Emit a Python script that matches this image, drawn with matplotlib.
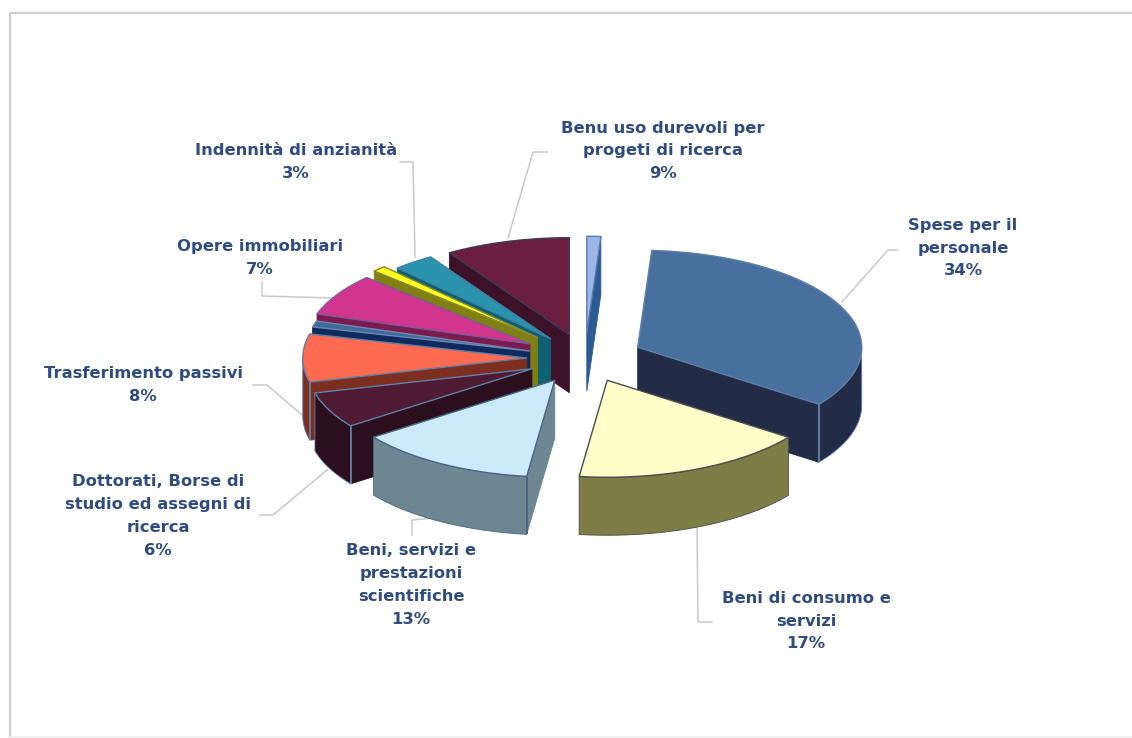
import numpy as np
import matplotlib
matplotlib.use("Agg")
import matplotlib.pyplot as plt
from matplotlib.patches import Polygon

# Budget shares, clockwise from twelve o'clock
categories = [
    "", "Spese per il\npersonale", "Beni di consumo e\nservizi",
    "Beni, servizi e\nprestazioni\nscientifiche",
    "Dottorati, Borse di\nstudio ed assegni di\nricerca",
    "Trasferimento passivi", "", "Opere immobiliari", "",
    "Indennità di anzianità", "Benu uso durevoli per\nprogeti di ricerca",
]
shares = [1, 34, 17, 13, 6, 8, 1, 7, 1, 3, 9]

top_colors = ["#9db6ea", "#48709f", "#ffffc9", "#cdeafb", "#4e1a34", "#ff6b50",
              "#3f6a9e", "#d2358e", "#ffff22", "#2a93ae", "#6a1f40"]
side_colors = ["#2c5a92", "#232c46", "#7d7d46", "#6c8792", "#2b0f1d", "#7c2f20",
               "#0f2a5e", "#7a1c50", "#7f7f14", "#0f6071", "#3c1229"]
edge_colors = ["#5a7cb0", "#5f7fa6", "#4a4a50", "#4a6484", "#5f7fa6", "#5f7fa6",
               "#6f88b0", "#7a5a9a", "#8a8a30", "#3f7fa0", "#3c3a55"]
explode = [0.255, 0.26, 0.25, 0.265, 0.262, 0.26, 0.258, 0.285, 0.30, 0.25, 0.25]

# Pie geometry on the page, in canvas pixels
CX, CY = 585.0, 358.0
RX, RY = 224.0, 97.0
DEPTH = 58.0
TEXT_COLOR = "#2f4b80"
LEADER_COLOR = "#c9c9c9"

# Label anchors and their leader lines
label_pos = {1: (963, 248), 2: (806, 621), 3: (411, 585), 4: (158, 516),
             5: (143, 385), 7: (260, 258), 9: (296, 162), 10: (663, 151)}
leaders = {1: [(842, 302), (888, 250), (897, 250)],
           2: [(697, 524), (698, 622), (712, 622)],
           3: [(433, 518), (412, 520), (412, 535)],
           4: [(327, 470), (273, 515), (260, 515)],
           5: [(302, 415), (267, 385), (253, 385)],
           7: [(333, 298), (262, 296), (262, 282)],
           9: [(415, 257), (413, 162), (400, 162)],
           10: [(508, 238), (533, 152), (547, 152)]}

fig = plt.figure(figsize=(11.32, 7.38), dpi=100, facecolor="white")
ax = fig.add_axes([0, 0, 1, 1])
ax.set_xlim(0, 1132)
ax.set_ylim(738, 0)
ax.axis("off")

# Chart area frame, faint on the top and left
ax.plot([9.5, 9.5, 1132], [737, 12.5, 12.5], color="#cfcfcf", lw=1.6, solid_capstyle="butt")
ax.plot([9, 1132], [737, 737], color="#eeeeee", lw=1.2)


def rim(theta_deg, ox, oy, dz=0.0):
    t = np.radians(theta_deg)
    return np.column_stack([ox + RX * np.sin(t), oy - RY * np.cos(t) + dz])


fractions = np.array(shares, dtype=float) / sum(shares)
ends = np.cumsum(fractions) * 360.0
starts = ends - fractions * 360.0
mids = (starts + ends) / 2.0

# Far slices first so nearer ones paint over them
order = sorted(range(len(shares)), key=lambda k: -np.cos(np.radians(mids[k])))

for k in order:
    ox = CX + RX * explode[k] * np.sin(np.radians(mids[k]))
    oy = CY - RY * explode[k] * np.cos(np.radians(mids[k]))
    a0, a1 = starts[k], ends[k]
    top, side, edge = top_colors[k], side_colors[k], edge_colors[k]

    # Radial cut faces that look toward the viewer
    for ang, visible in ((a0, np.sin(np.radians(a0)) < -1e-6),
                         (a1, np.sin(np.radians(a1)) > 1e-6)):
        if visible:
            p = rim(np.array([ang]), ox, oy)[0]
            ax.add_patch(Polygon([(ox, oy), p, (p[0], p[1] + DEPTH), (ox, oy + DEPTH)],
                                 closed=True, facecolor=side, edgecolor=side, lw=0.6, zorder=2))

    # Outer wall for the part of the rim on the near side
    w0, w1 = max(a0, 90.0), min(a1, 270.0)
    if w1 > w0:
        th = np.linspace(w0, w1, 80)
        upper = rim(th, ox, oy)
        lower = rim(th[::-1], ox, oy, DEPTH)
        ax.add_patch(Polygon(np.vstack([upper, lower]), closed=True,
                             facecolor=side, edgecolor=edge, lw=0.6, zorder=2))

    # Top surface
    th = np.linspace(a0, a1, 120)
    ax.add_patch(Polygon(np.vstack([[(ox, oy)], rim(th, ox, oy)]), closed=True,
                         facecolor=top, edgecolor=edge, lw=1.0, joinstyle="round", zorder=2))

    # Vertical highlight on the corner nearest the viewer
    if (a1 > 90 and a1 <= 180) or (180 < a0 < 270):
        corner = a1 if a1 <= 180 else a0
        p = rim(np.array([corner]), ox, oy)[0]
        ax.plot([p[0], p[0]], [p[1], p[1] + DEPTH], color=edge, lw=1.3,
                solid_capstyle="butt", zorder=2)

# Leader lines and data labels
for k, pts in leaders.items():
    xs, ys = zip(*pts)
    ax.plot(xs, ys, color=LEADER_COLOR, lw=1.1, zorder=1)

for k, (x, y) in label_pos.items():
    ax.text(x, y, f"{categories[k]}\n{shares[k]}%", ha="center", va="center",
            multialignment="center", color=TEXT_COLOR, fontsize=11.8,
            fontweight="bold", family="DejaVu Sans", linespacing=1.64, zorder=3)

fig.savefig("out.png", dpi=100, facecolor="white")
